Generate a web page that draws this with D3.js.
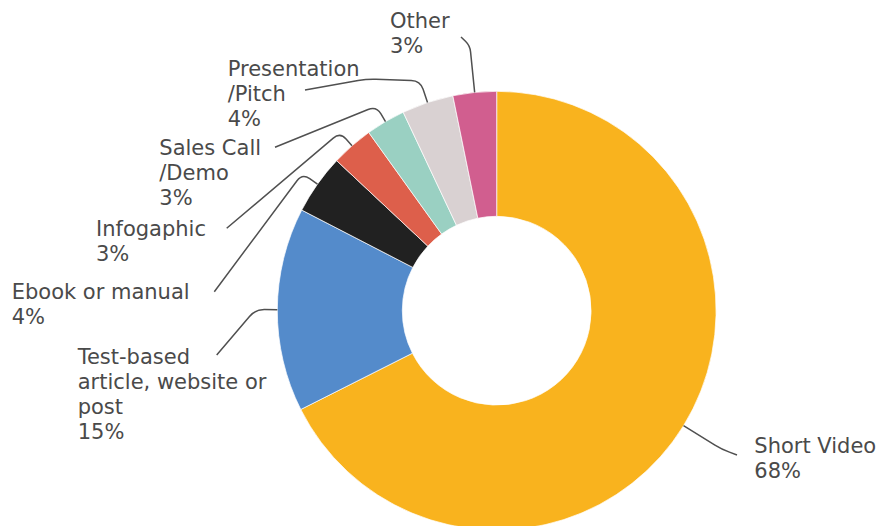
<!DOCTYPE html>
<html>
<head>
<meta charset="utf-8">
<script src="https://cdn.jsdelivr.net/npm/d3@7"></script>
<style>
  html, body { margin: 0; padding: 0; background: #fff; }
  svg { display: block; }
</style>
</head>
<body>
<svg id="chart" width="882" height="526"></svg>
<script>
// ---- data (clockwise from 12 o'clock) ----
const categories = [
  "Short Video",
  "Test-based\narticle, website or\npost",
  "Ebook or manual",
  "Infogaphic",
  "Sales Call\n/Demo",
  "Presentation\n/Pitch",
  "Other"
];
const values = [67.5, 15.0, 4.4, 3.1, 2.9, 3.8, 3.2];
const colors = ["#F9B31E", "#548BCB", "#212121", "#DD5F4B", "#9AD0C2", "#D9D1D2", "#D15E8F"];

// ---- layout (label placement, leader line geometry) ----
const labelLayout = [
  { x: 754.3, y: 453.3, ext: 45, via: [], end: [737, 455] },
  { x: 77.7,  y: 364.3, ext: 22, via: [], end: [216.7, 355] },
  { x: 11.7,  y: 299.3, ext: 18.5, via: [], end: [214.3, 291.7] },
  { x: 96,    y: 235.7, ext: 18, via: [], end: [226.7, 228.3] },
  { x: 159.3, y: 155,   ext: 18, via: [], end: [275, 147.3] },
  { x: 227.7, y: 76,    ext: 23, via: [[367, 79]], end: [305, 90] },
  { x: 390,   y: 28.3,  ext: 47, via: [], end: [461, 37] }
];

const cx = 496.7, cy = 310.7, R = 219.4, r = 94.4;
const lineHeight = 25;

const svg = d3.select("#chart");
const g = svg.append("g").attr("transform", `translate(${cx},${cy})`);

const data = categories.map((c, i) => ({ name: c, value: values[i], color: colors[i], layout: labelLayout[i] }));

const pie = d3.pie().value(d => d.value).sort(null).startAngle(0).endAngle(2 * Math.PI);
const arc = d3.arc().innerRadius(r).outerRadius(R);
const arcs = pie(data);

g.selectAll("path.slice")
  .data(arcs)
  .enter().append("path")
  .attr("class", "slice")
  .attr("d", arc)
  .attr("fill", d => d.data.color)
  .attr("stroke", "#fff")
  .attr("stroke-width", 0.7);

// leader lines
function roundedPath(pts, rad) {
  const p = d3.path();
  p.moveTo(pts[0][0], pts[0][1]);
  for (let i = 1; i < pts.length - 1; i++) {
    const [x0, y0] = pts[i - 1], [x1, y1] = pts[i], [x2, y2] = pts[i + 1];
    const l1 = Math.hypot(x1 - x0, y1 - y0), l2 = Math.hypot(x2 - x1, y2 - y1);
    const rr = Math.min(rad, l1 / 2, l2 / 2);
    const ax = x1 - (x1 - x0) / l1 * rr, ay = y1 - (y1 - y0) / l1 * rr;
    const bx = x1 + (x2 - x1) / l2 * rr, by = y1 + (y2 - y1) / l2 * rr;
    p.lineTo(ax, ay);
    p.quadraticCurveTo(x1, y1, bx, by);
  }
  const last = pts[pts.length - 1];
  p.lineTo(last[0], last[1]);
  return p.toString();
}

arcs.forEach(a => {
  const L = a.data.layout;
  const mid = (a.startAngle + a.endAngle) / 2;
  const pt = rad => [cx + rad * Math.sin(mid), cy - rad * Math.cos(mid)];
  const pts = [pt(R), pt(R + L.ext), ...L.via, L.end];
  svg.append("path")
    .attr("d", roundedPath(pts, 9))
    .attr("fill", "none")
    .attr("stroke", "#505050")
    .attr("stroke-width", 1.5);

  const lines = a.data.name.split("\n").concat([Math.round(a.data.value) + "%"]);
  const t = svg.append("text")
    .attr("x", L.x)
    .attr("y", L.y)
    .attr("fill", "#4A4A4A")
    .attr("font-family", "'DejaVu Sans', sans-serif")
    .attr("font-size", 21);
  lines.forEach((ln, i) => {
    t.append("tspan").attr("x", L.x).attr("y", L.y + i * lineHeight).text(ln);
  });
});
</script>
</body>
</html>
